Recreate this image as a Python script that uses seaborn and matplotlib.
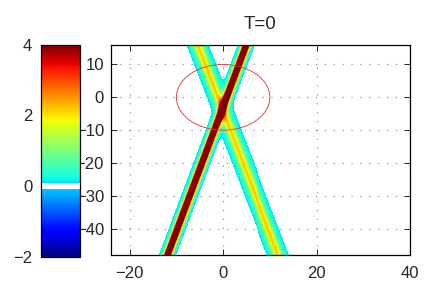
import numpy as np
import seaborn as sns
import matplotlib.pyplot as plt
from matplotlib.colors import ListedColormap
from matplotlib.patches import Ellipse

# axis ranges and ticks
x_range = [-24, 40]
y_range = [-48, 16]
x_ticks = [-20, 0, 20, 40]
y_ticks = [10, 0, -10, -20, -30, -40]
cbar_ticks = [-2, 0, 2, 4]
color_range = [-2, 4]

# two crossing beams (sech^2 profile), crossing near (0, -2.5)
beam_amp = [10.0, 2.2]
beam_slope = [0.2625, -0.27]   # dx/dy of each beam centre line
beam_offset = [0.0, -0.5]      # x of the centre line at the crossing height
beam_width = [0.61, 1.05]
cross_y = -2.5

# red circle
circle_center = [0, 0]
circle_radius = 10

title = "T=0"

nx, ny = 300, 210


def field():
    dx = (x_range[1] - x_range[0]) / nx
    dy = (y_range[1] - y_range[0]) / ny
    xs = x_range[0] + (np.arange(nx) + 0.5) * dx
    ys = y_range[1] - (np.arange(ny) + 0.5) * dy   # row 0 at the top
    X, Y = np.meshgrid(xs, ys)
    u = np.zeros_like(X)
    for a, s, o, w in zip(beam_amp, beam_slope, beam_offset, beam_width):
        xc = o + s * (Y - cross_y)
        u += a / np.cosh((X - xc) / w) ** 2
    return u


def to_col(x):
    return (np.asarray(x, float) - x_range[0]) / (x_range[1] - x_range[0]) * nx


def to_row(y):
    return (y_range[1] - np.asarray(y, float)) / (y_range[1] - y_range[0]) * ny


def main():
    sns.set_style("white")
    plt.rcParams["font.family"] = ["Liberation Sans", "DejaVu Sans"]

    # jet with a white band around zero
    levels = np.linspace(color_range[0], color_range[1], 256)
    colors = plt.cm.jet(np.linspace(0, 1, 256))
    colors[(levels > -0.08) & (levels < 0.09)] = [1, 1, 1, 1]
    cmap = ListedColormap(colors)

    u = field()
    mask = u < 0.09

    fig = plt.figure(figsize=(4.42, 2.88), dpi=100)
    ax = fig.add_axes([0.2511, 0.1146, 0.6765, 0.730])
    cax = fig.add_axes([0.0921, 0.1087, 0.089, 0.736])

    sns.heatmap(u, mask=mask, cmap=cmap, vmin=color_range[0], vmax=color_range[1],
                ax=ax, cbar_ax=cax, xticklabels=False, yticklabels=False)

    ax.set_facecolor("white")
    for s in ax.spines.values():
        s.set_visible(True)
        s.set_color("black")
        s.set_linewidth(0.9)

    ax.set_xticks(to_col(x_ticks))
    ax.set_xticklabels([str(t).replace("-", "\u2212") for t in x_ticks])
    ax.set_yticks(to_row(y_ticks))
    ax.set_yticklabels([str(t).replace("-", "\u2212") for t in y_ticks], rotation=0)
    ax.tick_params(axis="x", direction="in", length=4, width=0.7, top=True, bottom=True,
                   labelsize=12, pad=8)
    ax.tick_params(axis="y", direction="in", length=4, width=0.7, left=True, right=True,
                   labelsize=12, pad=5)
    ax.set_xlim(0, nx)
    ax.set_ylim(ny, 0)

    ax.set_axisbelow(True)
    ax.grid(True, color="0.5", linestyle=(0, (1, 7)), linewidth=0.8)

    ax.add_patch(Ellipse((to_col(circle_center[0]), to_row(circle_center[1])),
                         width=2 * circle_radius * nx / (x_range[1] - x_range[0]),
                         height=2 * circle_radius * ny / (y_range[1] - y_range[0]),
                         fill=False, edgecolor="#e03030", linewidth=0.6, zorder=3))

    ax.set_title(title, fontsize=13.5, pad=11)

    # colorbar with labels on the left, MATLAB style
    cb = ax.collections[0].colorbar
    cb.set_ticks(cbar_ticks)
    cb.set_ticklabels([str(t).replace("-", "\u2212") for t in cbar_ticks])
    cb.outline.set_visible(True)
    cb.outline.set_linewidth(0.9)
    cb.outline.set_edgecolor("black")
    cax.set_facecolor("white")
    cax.yaxis.set_ticks_position("left")
    cax.yaxis.set_label_position("left")
    cax.tick_params(axis="y", direction="in", length=4, width=0.7, labelsize=12, pad=6,
                    left=True, right=False, labelleft=True, labelright=False)

    fig.savefig("out.png", dpi=100)
    plt.close(fig)


if __name__ == "__main__":
    main()
